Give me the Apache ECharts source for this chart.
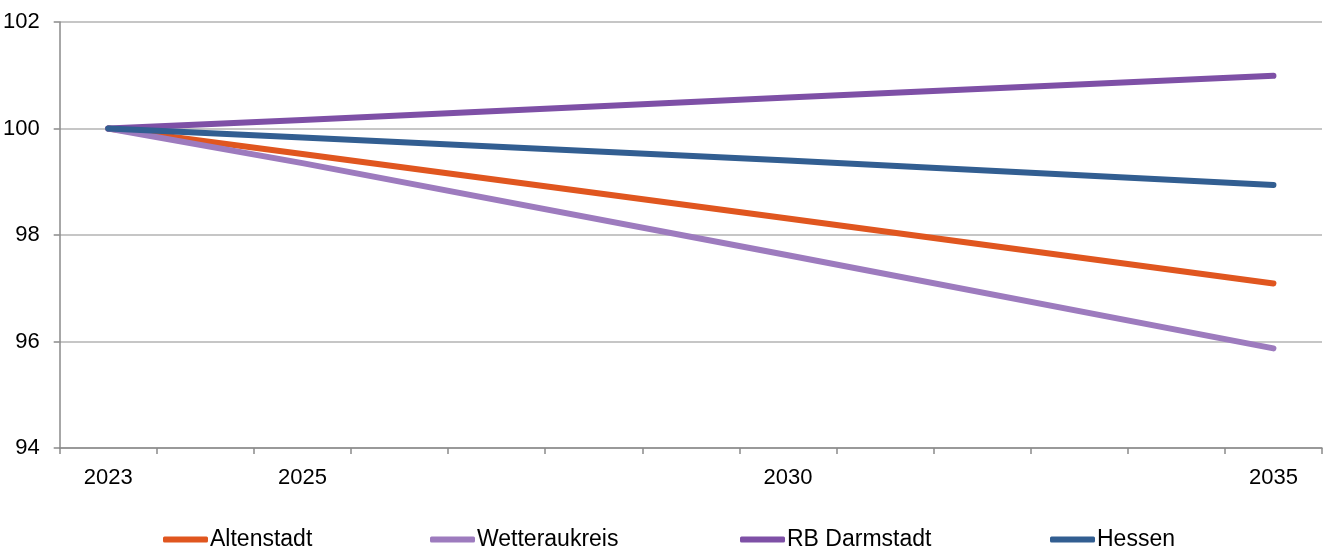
<!DOCTYPE html>
<html>
<head>
<meta charset="utf-8">
<script src="https://cdn.jsdelivr.net/npm/echarts@6/dist/echarts.min.js"></script>
<style>
html, body { margin: 0; padding: 0; background: #fff; }
#main { width: 1333px; height: 550px; }
</style>
</head>
<body>
<div id="main"></div>
<script>
// Jahre (Kategorien), nur einige werden beschriftet
var years = ['2023', '2024', '2025', '2026', '2027', '2028', '2029', '2030', '2031', '2032', '2033', '2034', '2035'];
var shownYears = ['2023', '2025', '2030', '2035'];
var yTicks = [94, 96, 98, 100, 102];

// Index 2023 = 100, Werte nur an den beschrifteten Jahren
var altenstadt  = [100, null, 99.52, null, null, null, null, 98.31, null, null, null, null, 97.09];
var wetterau    = [100, null, 99.35, null, null, null, null, 97.62, null, null, null, null, 95.87];
var rbDarmstadt = [100, null, 100.16, null, null, null, null, 100.58, null, null, null, null, 100.99];
var hessen      = [100, null, 99.83, null, null, null, null, 99.40, null, null, null, null, 98.94];

var names = ['Altenstadt', 'Wetteraukreis', 'RB Darmstadt', 'Hessen'];
var colors = ['#E0561F', '#9D7BBE', '#7E50A6', '#325E91'];
var seriesData = [altenstadt, wetterau, rbDarmstadt, hessen];
var legendLeft = [163, 430, 740, 1050];

var font = '"Liberation Sans Narrow", "Arial Narrow", "Liberation Sans", Arial, sans-serif';

var chart = echarts.init(document.getElementById('main'));

var legends = names.map(function (n, i) {
	return {
		data: [n],
		left: legendLeft[i],
		top: 528,
		icon: 'roundRect',
		itemWidth: 45,
		itemHeight: 6,
		itemGap: 0,
		padding: 0,
		selectedMode: false,
		textStyle: { fontFamily: font, fontSize: 23, color: '#000', padding: [0, 0, 0, -3] }
	};
});

var series = names.map(function (n, i) {
	return {
		name: n,
		type: 'line',
		data: seriesData[i],
		connectNulls: true,
		showSymbol: false,
		symbol: 'none',
		smooth: false,
		color: colors[i],
		lineStyle: { width: 6, color: colors[i], cap: 'round', join: 'round' }
	};
});

var option = {
	animation: false,
	backgroundColor: '#fff',
	grid: { left: 59, right: 11, top: 22, bottom: 102 },
	legend: legends,
	xAxis: {
		type: 'category',
		data: years,
		boundaryGap: true,
		axisLine: { lineStyle: { color: '#8a8a8a', width: 1.5 } },
		axisTick: { show: true, interval: 0, length: 6, lineStyle: { color: '#8a8a8a', width: 1.5 } },
		axisLabel: {
			interval: 0,
			margin: 19,
			fontFamily: font,
			fontSize: 22,
			color: '#000',
			formatter: function (v) { return shownYears.indexOf(v) >= 0 ? v : ''; }
		},
		splitLine: { show: false }
	},
	yAxis: {
		type: 'value',
		min: yTicks[0],
		max: yTicks[yTicks.length - 1],
		interval: 2,
		axisLine: { show: true, lineStyle: { color: '#8a8a8a', width: 1.5 } },
		axisTick: { show: true, length: 6, lineStyle: { color: '#8a8a8a', width: 1.5 } },
		axisLabel: { margin: 20, fontFamily: font, fontSize: 22, color: '#000' },
		splitLine: { show: true, lineStyle: { color: '#b3b3b3', width: 1.5 } }
	},
	series: series
};

chart.setOption(option);
</script>
</body>
</html>
